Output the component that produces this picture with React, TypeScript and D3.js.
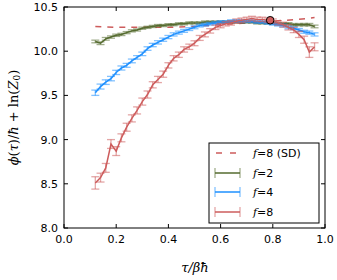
import React from "react";
import * as d3 from "d3";

const W = 337;
const H = 280;

const tau = [0.12, 0.14, 0.16, 0.18, 0.2, 0.22, 0.24, 0.26, 0.28, 0.3, 0.32, 0.34, 0.36, 0.38, 0.4, 0.42, 0.44, 0.46, 0.48, 0.5, 0.52, 0.54, 0.56, 0.58, 0.6, 0.62, 0.64, 0.66, 0.68, 0.7, 0.72, 0.74, 0.76, 0.78, 0.8, 0.82, 0.84, 0.86, 0.88, 0.9, 0.92, 0.94, 0.96];

const f2 = [10.11, 10.09, 10.14, 10.16, 10.18, 10.19, 10.21, 10.23, 10.24, 10.26, 10.27, 10.28, 10.29, 10.29, 10.3, 10.3, 10.31, 10.31, 10.32, 10.32, 10.32, 10.33, 10.33, 10.33, 10.33, 10.33, 10.33, 10.33, 10.33, 10.33, 10.33, 10.32, 10.32, 10.32, 10.32, 10.31, 10.31, 10.31, 10.3, 10.3, 10.3, 10.3, 10.28];
const f2err = [0.015, 0.015, 0.015, 0.013, 0.013, 0.013, 0.012, 0.012, 0.012, 0.012, 0.012, 0.012, 0.012, 0.012, 0.012, 0.012, 0.012, 0.012, 0.012, 0.012, 0.012, 0.012, 0.012, 0.012, 0.012, 0.012, 0.012, 0.012, 0.012, 0.012, 0.012, 0.012, 0.012, 0.012, 0.012, 0.012, 0.012, 0.013, 0.013, 0.013, 0.014, 0.014, 0.015];

const f4 = [9.53, 9.6, 9.65, 9.69, 9.76, 9.81, 9.84, 9.89, 9.93, 9.97, 10.03, 10.07, 10.1, 10.13, 10.16, 10.19, 10.21, 10.23, 10.25, 10.27, 10.29, 10.3, 10.31, 10.32, 10.33, 10.33, 10.34, 10.34, 10.34, 10.34, 10.34, 10.33, 10.33, 10.32, 10.31, 10.3, 10.29, 10.27, 10.26, 10.24, 10.22, 10.21, 10.19];
const f4err = [0.03, 0.028, 0.026, 0.025, 0.024, 0.023, 0.022, 0.021, 0.02, 0.02, 0.02, 0.019, 0.019, 0.018, 0.018, 0.018, 0.017, 0.017, 0.016, 0.016, 0.016, 0.016, 0.015, 0.015, 0.015, 0.015, 0.015, 0.015, 0.015, 0.015, 0.015, 0.015, 0.015, 0.015, 0.015, 0.015, 0.016, 0.016, 0.016, 0.017, 0.017, 0.018, 0.018];

const f8 = [8.51, 8.57, 8.68, 8.95, 8.87, 9.02, 9.14, 9.24, 9.33, 9.43, 9.51, 9.62, 9.68, 9.74, 9.84, 9.92, 9.96, 10.02, 10.05, 10.09, 10.15, 10.19, 10.23, 10.27, 10.29, 10.31, 10.32, 10.34, 10.35, 10.36, 10.37, 10.36, 10.36, 10.35, 10.34, 10.32, 10.3, 10.27, 10.24, 10.19, 10.13, 9.99, 10.05];
const f8err = [0.07, 0.05, 0.05, 0.05, 0.05, 0.045, 0.045, 0.04, 0.04, 0.04, 0.04, 0.035, 0.035, 0.035, 0.03, 0.03, 0.03, 0.03, 0.03, 0.028, 0.028, 0.028, 0.025, 0.025, 0.025, 0.025, 0.025, 0.025, 0.025, 0.025, 0.025, 0.025, 0.025, 0.025, 0.025, 0.025, 0.028, 0.03, 0.03, 0.035, 0.04, 0.06, 0.045];

const sdTau = [0.12, 0.2, 0.3, 0.4, 0.5, 0.6, 0.7, 0.8, 0.9, 0.96];
const sdVal = [10.28, 10.27, 10.27, 10.27, 10.28, 10.3, 10.32, 10.34, 10.36, 10.38];

const markerTau = [0.79];
const markerVal = [10.35];

const xTicks = [0, 0.2, 0.4, 0.6, 0.8, 1.0];
const yTicks = [8.0, 8.5, 9.0, 9.5, 10.0, 10.5];

const C_GREEN = "#556b2f";
const C_BLUE = "#1e90ff";
const C_RED = "#cd5c5c";

const L = 64, R = 325, T = 7, B = 228;

export default function App() {
  const x = d3.scaleLinear().domain([0, 1]).range([L, R]);
  const y = d3.scaleLinear().domain([8, 10.5]).range([B, T]);
  const line = d3.line<[number, number]>().x(d => x(d[0])).y(d => y(d[1]));
  const cap = 4;

  const series = [
    { v: f2, e: f2err, c: C_GREEN },
    { v: f4, e: f4err, c: C_BLUE },
    { v: f8, e: f8err, c: C_RED },
  ];

  const errbars = (v: number[], e: number[], c: string) =>
    tau.map((t, i) => {
      const px = x(t);
      const y1 = y(v[i] + e[i]);
      const y2 = y(v[i] - e[i]);
      return (
        <g key={i} stroke={c} strokeOpacity={0.55} strokeWidth={1.3}>
          <line x1={px} x2={px} y1={y1} y2={y2} />
          <line x1={px - cap} x2={px + cap} y1={y1} y2={y1} />
          <line x1={px - cap} x2={px + cap} y1={y2} y2={y2} />
        </g>
      );
    });

  const legendItems = [
    { label: "=2", c: C_GREEN, y: 173 },
    { label: "=4", c: C_BLUE, y: 192 },
    { label: "=8", c: C_RED, y: 212 },
  ];

  return (
    <svg width={W} height={H} style={{ position: "absolute", left: 0, top: 0, background: "#fff" }}
      fontFamily="DejaVu Sans">
      <defs>
        <clipPath id="clip">
          <rect x={L} y={T} width={R - L} height={B - T} />
        </clipPath>
      </defs>
      <g clipPath="url(#clip)">
        <path d={line(sdTau.map((t, i) => [t, sdVal[i]]) as any) || ""} fill="none" stroke={C_RED}
          strokeWidth={1.5} strokeDasharray="6,6" />
        {series.map((s, k) => (
          <g key={k}>
            {errbars(s.v, s.e, s.c)}
            <path d={line(tau.map((t, i) => [t, s.v[i]]) as any) || ""} fill="none" stroke={s.c} strokeWidth={1.5} />
          </g>
        ))}
        {markerTau.map((t, i) => (
          <circle key={i} cx={x(t)} cy={y(markerVal[i])} r={3.8} fill={C_RED} stroke="#000" strokeWidth={1} />
        ))}
      </g>
      <rect x={L} y={T} width={R - L} height={B - T} fill="none" stroke="#000" strokeWidth={1} />
      {xTicks.map((t, i) => (
        <g key={"x" + i}>
          <line x1={x(t)} x2={x(t)} y1={B} y2={B - 4} stroke="#000" />
          <line x1={x(t)} x2={x(t)} y1={T} y2={T + 4} stroke="#000" />
          <text x={x(t)} y={243} fontSize={11} textAnchor="middle">{t.toFixed(1)}</text>
        </g>
      ))}
      {yTicks.map((t, i) => (
        <g key={"y" + i}>
          <line x1={L} x2={L + 4} y1={y(t)} y2={y(t)} stroke="#000" />
          <line x1={R} x2={R - 4} y1={y(t)} y2={y(t)} stroke="#000" />
          <text x={58} y={y(t) + 4} fontSize={11} textAnchor="end">{t.toFixed(1)}</text>
        </g>
      ))}
      <text x={195} y={272} fontSize={13} textAnchor="middle" fontFamily="DejaVu Serif" fontStyle="italic">τ/βħ</text>
      <text transform={`translate(18,${(T + B) / 2}) rotate(-90)`} fontSize={13} textAnchor="middle" fontFamily="DejaVu Serif">
        <tspan fontStyle="italic">ϕ</tspan>(<tspan fontStyle="italic">τ</tspan>)/<tspan fontStyle="italic">ħ</tspan> + ln(<tspan fontStyle="italic">Z</tspan><tspan fontSize={9} dy={2}>0</tspan><tspan dy={-2}>)</tspan>
      </text>
      <rect x={209} y={143} width={110} height={80} fill="#fff" stroke="#000" strokeWidth={1} />
      <line x1={215} x2={240} y1={153} y2={153} stroke={C_RED} strokeWidth={1.5} strokeDasharray="6,8" strokeDashoffset={-1} />
      <text x={253} y={157} fontSize={11}><tspan fontFamily="DejaVu Serif" fontStyle="italic">f</tspan>=8 (SD)</text>
      {legendItems.map((it, i) => (
        <g key={i}>
          <g stroke={it.c} strokeOpacity={0.55} strokeWidth={1.3}>
            <line x1={215} x2={215} y1={it.y - 5} y2={it.y + 5} />
            <line x1={240} x2={240} y1={it.y - 5} y2={it.y + 5} />
          </g>
          <line x1={215} x2={240} y1={it.y} y2={it.y} stroke={it.c} strokeWidth={1.5} />
          <text x={253} y={it.y + 4} fontSize={11}><tspan fontFamily="DejaVu Serif" fontStyle="italic">f</tspan>{it.label}</text>
        </g>
      ))}
    </svg>
  );
}
